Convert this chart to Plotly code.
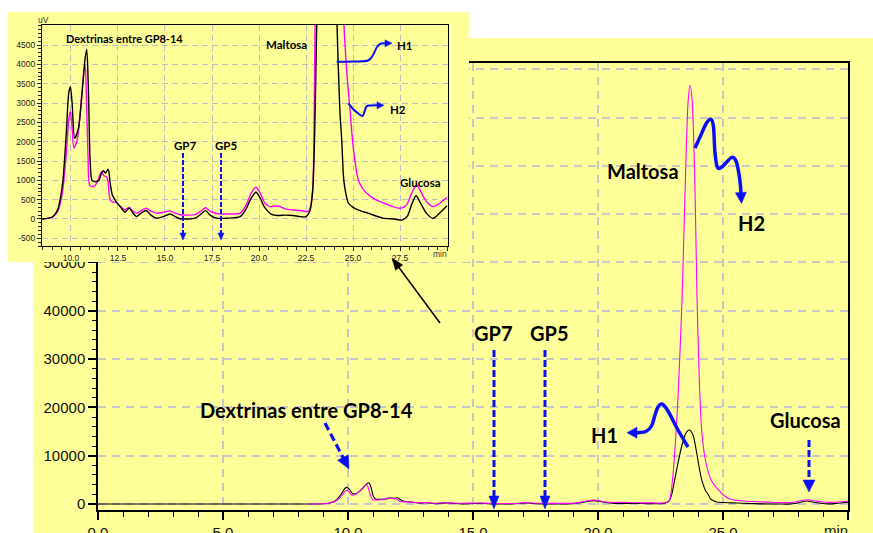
import plotly.graph_objects as go

W, H = 873, 533
YEL = '#FFFF99'
BLUE = '#0A10F5'
MAG = '#FF00FF'
GRID = '#C8C8C8'

# ---------------- data ----------------
# H1 (black trace): retention time (min) and signal (uV)
t_h1 = [0.0, 8.5, 9.0, 9.3, 9.55, 9.75, 9.88, 9.97, 10.06, 10.2, 10.4, 10.6, 10.75, 10.84, 10.93,
        11.02, 11.12, 11.3, 11.5, 11.62, 11.72, 11.84, 11.98, 12.08, 12.2, 12.4, 12.65, 12.87, 13.1,
        13.3, 13.5, 13.75, 14.0, 14.25, 14.55, 14.9, 15.27, 15.55, 15.8, 16.2, 16.6, 16.9, 17.16,
        17.4, 17.75, 18.3, 19.0, 19.3, 19.6, 19.84, 20.05, 20.3, 20.67, 21.0, 21.4, 21.8, 22.2, 22.5,
        22.7, 22.85, 22.95, 23.05, 23.2, 23.35, 23.5, 23.65, 23.8, 23.95, 24.05, 24.15, 24.3, 24.4,
        24.5, 24.62, 24.75, 25.0, 25.3, 25.8, 26.6, 27.2, 27.6, 27.9, 28.1, 28.35, 28.6, 28.9, 29.25,
        29.6, 30.0]
v_h1 = [0, 0, 50, 250, 900, 2200, 3250, 3420, 3000, 2090, 2350, 3300, 4150, 4390, 3300,
        1500, 1000, 960, 1010, 1180, 1250, 1190, 1290, 950, 620, 450, 300, 175, 280,
        150, 60, 160, 220, 100, 20, 60, 130, 60, 5, 0, 20, 120, 215,
        100, 20, 20, 60, 250, 550, 690, 550, 300, 120, 90, 100, 90, 60, 60,
        200, 700, 2000, 4500, 8500, 12000, 14500, 15300, 14300, 10500, 7500, 5000, 2800, 2040,
        1050, 650, 420, 300, 230, 150, 20, 0, -30, 80, 350, 600, 400, 150, 15,
        150, 340]

# H2 (magenta trace)
t_h2 = [8.5, 9.0, 9.3, 9.55, 9.75, 9.88, 9.96, 10.04, 10.16, 10.35, 10.55, 10.68, 10.76, 10.83,
        10.91, 11.0, 11.2, 11.4, 11.54, 11.64, 11.75, 11.86, 11.96, 12.08, 12.2, 12.4, 12.65, 12.87,
        13.1, 13.3, 13.5, 13.75, 14.0, 14.25, 14.55, 14.9, 15.27, 15.55, 15.8, 16.2, 16.6, 16.9,
        17.16, 17.4, 17.75, 18.3, 19.0, 19.3, 19.6, 19.84, 20.05, 20.3, 20.58, 21.03, 21.4, 21.8,
        22.2, 22.62, 22.75, 22.87, 22.98, 23.1, 23.2, 23.36, 23.5, 23.6, 23.68, 23.76, 23.86, 23.96,
        24.05, 24.15, 24.3, 24.52, 24.7, 24.84, 25.0, 25.28, 25.5, 25.73, 26.2, 26.8, 27.5, 27.85,
        28.1, 28.38, 28.55, 28.74, 29.0, 29.27, 29.6, 30.0]
v_h2 = [0, 40, 200, 700, 1700, 2550, 2780, 2500, 1830, 2100, 3100, 3800, 3990, 3000,
        1600, 870, 840, 950, 1150, 1230, 1120, 1100, 1000, 500, 440, 430, 320, 235,
        300, 200, 150, 220, 280, 200, 150, 170, 210, 150, 110, 100, 110, 200,
        290, 200, 140, 130, 150, 350, 680, 820, 680, 420, 320, 336, 260, 233,
        220, 190, 330, 900, 5000, 13000, 22000, 42000, 68000, 83000, 86700, 84000, 70000, 43000,
        26000, 15000, 9000, 5000, 3600, 2820, 1900, 1010, 800, 664, 500, 380, 276, 362,
        650, 880, 760, 580, 400, 320, 400, 560]

assert len(t_h1) == len(v_h1) and len(t_h2) == len(v_h2)

# tick labels
main_x_ticks = [0, 5, 10, 15, 20, 25, 30]
main_x_labels = ['0.0', '5.0', '10.0', '15.0', '20.0', '25.0', '']
main_y_ticks = [0, 10000, 20000, 30000, 40000, 50000, 60000, 70000, 80000, 90000]
main_y_labels = ['0', '10000', '20000', '30000', '40000', '50000', '60000', '70000', '80000', '90000']
inset_x_ticks = [10, 12.5, 15, 17.5, 20, 22.5, 25, 27.5, 30]
inset_x_labels = ['10.0', '12.5', '15.0', '17.5', '20.0', '22.5', '25.0', '27.5', '']
inset_y_ticks = [-500, 0, 500, 1000, 1500, 2000, 2500, 3000, 3500, 4000, 4500]
inset_y_labels = ['-500', '0', '500', '1000', '1500', '2000', '2500', '3000', '3500', '4000', '4500']

# ---------------- layout geometry (pixels) ----------------
MAIN_BOX = (98, 63, 848, 510)      # left, top, right, bottom
MAIN_XR, MAIN_YR = [0, 30], [-1250, 91300]
INSET_BOX = (42, 25, 448, 246)
INSET_XR, INSET_YR = [8.46, 30.05], [-700, 5020]
COVER_BOX = (8, 12, 469, 262)
MAIN_PANEL = (33, 38, 873, 533)


def dom(box):
    l, t, r, b = box
    return [l / W, r / W], [1 - b / H, 1 - t / H]


def X(px):
    return px / W


def Y(py):
    return 1 - py / H


shapes = []
shapes.append(dict(type='rect', xref='paper', yref='paper', layer='below',
                   x0=X(MAIN_PANEL[0]), x1=X(MAIN_PANEL[2]), y0=Y(MAIN_PANEL[3]), y1=Y(MAIN_PANEL[1]),
                   fillcolor=YEL, line=dict(width=0)))


def path_str(pts, smooth):
    d = 'M%.5f,%.5f' % (X(pts[0][0]), Y(pts[0][1]))
    if not smooth:
        for p in pts[1:]:
            d += ' L%.5f,%.5f' % (X(p[0]), Y(p[1]))
        return d
    n = len(pts)
    for i in range(n - 1):
        p0 = pts[i - 1] if i > 0 else pts[i]
        p1, p2 = pts[i], pts[i + 1]
        p3 = pts[i + 2] if i + 2 < n else p2
        c1 = (p1[0] + (p2[0] - p0[0]) / 6, p1[1] + (p2[1] - p0[1]) / 6)
        c2 = (p2[0] - (p3[0] - p1[0]) / 6, p2[1] - (p3[1] - p1[1]) / 6)
        d += ' C%.5f,%.5f %.5f,%.5f %.5f,%.5f' % (X(c1[0]), Y(c1[1]), X(c2[0]), Y(c2[1]), X(p2[0]), Y(p2[1]))
    return d


def arrow(pts, color, lw, head_len, head_w, dash=None, smooth=False):
    tip, frm = pts[-1], pts[-2]
    dx, dy = tip[0] - frm[0], tip[1] - frm[1]
    L = (dx * dx + dy * dy) ** 0.5
    ux, uy = dx / L, dy / L
    base = (tip[0] - ux * head_len, tip[1] - uy * head_len)
    line_pts = list(pts[:-1]) + [(base[0] + ux * 1.5, base[1] + uy * 1.5)]
    line = dict(color=color, width=lw)
    if dash:
        line['dash'] = dash
    shapes.append(dict(type='path', xref='paper', yref='paper', layer='above',
                       path=path_str(line_pts, smooth), line=line))
    nx, ny = -uy, ux
    c1 = (base[0] + nx * head_w / 2, base[1] + ny * head_w / 2)
    c2 = (base[0] - nx * head_w / 2, base[1] - ny * head_w / 2)
    shapes.append(dict(type='path', xref='paper', yref='paper', layer='above',
                       path=path_str([tip, c1, c2], False) + ' Z',
                       fillcolor=color, line=dict(color=color, width=0.5)))


# main chart arrows
arrow([(325, 423), (349, 469)], BLUE, 3.2, 13, 12, dash='8px,4px')
arrow([(494, 350), (494, 509)], BLUE, 3, 13, 10, dash='7px,3px')
arrow([(545, 350), (545, 509)], BLUE, 3, 13, 10, dash='7px,3px')
arrow([(809, 440), (809, 492)], BLUE, 3, 12, 12, dash='7px,3px')
arrow([(688, 447), (678, 430), (668, 411), (662, 404), (658, 407), (655, 415), (651.5, 426),
       (646, 431.5), (638, 432.7), (627, 432.7)], BLUE, 3.5, 10, 11, smooth=True)
arrow([(695, 148), (700, 137), (706.5, 123), (711, 119.3), (713.5, 127), (715, 153), (717.5, 167.5),
       (722.5, 166.5), (731.5, 157.5), (736, 161), (739, 174), (740.5, 186), (741.5, 203.5)],
      BLUE, 3.5, 11, 11, smooth=True)
arrow([(440, 323), (392, 258)], 'black', 1.5, 12, 9)

# inset arrows
arrow([(183, 153), (183, 240)], BLUE, 2, 7, 6, dash='5px,2px')
arrow([(221, 153), (221, 240)], BLUE, 2, 7, 6, dash='5px,2px')
arrow([(336.7, 61.7), (355, 61.5), (368, 60.5), (373, 55), (377, 47), (381, 43.5), (386, 43.3),
       (392, 43.3)], BLUE, 2, 7, 7, smooth=True)
arrow([(348.3, 103.3), (353, 109), (358.3, 113.5), (362.5, 116), (364.5, 111.5), (366.5, 106.5),
       (371, 105.5), (377, 105.3), (384, 105.3)], BLUE, 2, 7, 7, smooth=True)

# ---------------- text ----------------
annotations = []


def label(text, px, py, size, family='Lato', bold=True, color='black', xanchor='center'):
    annotations.append(dict(text=('<b>%s</b>' % text) if bold else text, x=X(px), y=Y(py),
                            xref='paper', yref='paper', showarrow=False, xanchor=xanchor,
                            yanchor='middle', font=dict(family=family, size=size, color=color)))


label('Dextrinas entre GP8-14', 306, 410, 20)
label('GP7', 493, 333, 20)
label('GP5', 549, 333, 20)
label('H1', 604, 435, 20)
label('Maltosa', 643, 171, 20)
label('H2', 751, 223, 20)
label('Glucosa', 805, 420, 20)
label('Dextrinas entre GP8-14', 124, 39, 11)
label('Maltosa', 286, 44, 11.5)
label('H1', 405, 46, 11.5)
label('H2', 398, 109, 11.5)
label('GP7', 185, 146, 11.5)
label('GP5', 226, 146, 11.5)
label('Glucosa', 420, 182, 11.5)
label('uV', 43, 20, 8.5, family='Liberation Sans', bold=False, color='#333')
label('min', 449, 254, 8.5, family='Liberation Sans', bold=False, color='#333', xanchor='right')
label('min', 850, 530, 15, family='Liberation Sans', bold=False, color='#111', xanchor='right')

# ---------------- figure ----------------
fig = go.Figure()
# main chart
fig.add_trace(go.Scatter(x=t_h1, y=v_h1, mode='lines', line=dict(color='black', width=1.1, shape='spline', smoothing=0.7),
                         xaxis='x', yaxis='y', hoverinfo='skip'))
fig.add_trace(go.Scatter(x=t_h2, y=v_h2, mode='lines', line=dict(color=MAG, width=1.1, shape='spline', smoothing=0.7),
                         xaxis='x', yaxis='y', hoverinfo='skip'))
# cover panel for the inset
fig.add_trace(go.Scatter(x=[0, 1, 1, 0, 0], y=[0, 0, 1, 1, 0], mode='lines', fill='toself', fillcolor=YEL,
                         line=dict(width=0, color=YEL), xaxis='x2', yaxis='y2', hoverinfo='skip'))
# inset
fig.add_trace(go.Scatter(x=t_h2, y=v_h2, mode='lines', line=dict(color=MAG, width=1.4, shape='spline', smoothing=0.7),
                         xaxis='x3', yaxis='y3', hoverinfo='skip'))
fig.add_trace(go.Scatter(x=t_h1, y=v_h1, mode='lines', line=dict(color='black', width=1.4, shape='spline', smoothing=0.7),
                         xaxis='x3', yaxis='y3', hoverinfo='skip'))

mxd, myd = dom(MAIN_BOX)
cxd, cyd = dom(COVER_BOX)
ixd, iyd = dom(INSET_BOX)

main_font = dict(family='Liberation Sans', size=15, color='#111')
inset_font = dict(family='Liberation Sans', size=8.5, color='#222')

fig.update_layout(
    template='none',
    width=W, height=H, margin=dict(l=0, r=0, t=0, b=0, pad=0, autoexpand=False),
    paper_bgcolor='white', plot_bgcolor=YEL, showlegend=False,
    xaxis=dict(domain=mxd, anchor='y', range=MAIN_XR, tickmode='array', tickvals=main_x_ticks,
               ticktext=main_x_labels, ticks='outside', ticklen=8, tickwidth=1.5, tickcolor='black',
               minor=dict(dtick=1, tick0=0, ticks='outside', ticklen=5, tickwidth=1, tickcolor='black', showgrid=False),
               showline=True, linecolor='black', linewidth=1.5, mirror=True, automargin=False,
               showgrid=True, gridcolor=GRID, gridwidth=1.5, griddash='8px,6px', zeroline=False,
               tickfont=main_font),
    yaxis=dict(domain=myd, anchor='x', range=MAIN_YR, tickmode='array', tickvals=main_y_ticks,
               ticktext=main_y_labels, ticks='outside', ticklen=8, tickwidth=1.5, tickcolor='black',
               minor=dict(dtick=2000, tick0=0, ticks='outside', ticklen=4, tickwidth=1, tickcolor='black', showgrid=False),
               showline=True, linecolor='black', linewidth=1.5, mirror=True, automargin=False,
               showgrid=True, gridcolor=GRID, gridwidth=1.5, griddash='8px,6px', zeroline=False,
               tickfont=main_font),
    xaxis2=dict(domain=cxd, anchor='y2', range=[0, 1], visible=False, fixedrange=True, automargin=False),
    yaxis2=dict(domain=cyd, anchor='x2', range=[0, 1], visible=False, fixedrange=True, automargin=False),
    xaxis3=dict(domain=ixd, anchor='y3', range=INSET_XR, tickmode='array', tickvals=inset_x_ticks,
                ticktext=inset_x_labels, ticks='outside', ticklen=4, tickwidth=1, tickcolor='#222',
                minor=dict(dtick=0.5, tick0=0, ticks='outside', ticklen=2.5, tickwidth=1, tickcolor='#222', showgrid=False),
                showline=True, linecolor='black', linewidth=1.2, mirror=True, automargin=False,
                showgrid=True, gridcolor='#BEBEBE', gridwidth=1.3, griddash='6px,4px', zeroline=False,
                tickfont=inset_font),
    yaxis3=dict(domain=iyd, anchor='x3', range=INSET_YR, tickmode='array', tickvals=inset_y_ticks,
                ticktext=inset_y_labels, ticks='outside', ticklen=4, tickwidth=1, tickcolor='#222',
                minor=dict(dtick=100, tick0=0, ticks='outside', ticklen=2.5, tickwidth=1, tickcolor='#222', showgrid=False),
                showline=True, linecolor='black', linewidth=1.2, mirror=True, automargin=False,
                showgrid=True, gridcolor='#BEBEBE', gridwidth=1.3, griddash='6px,4px', zeroline=False,
                tickfont=inset_font),
    shapes=shapes, annotations=annotations,
)

fig.write_html('out.html', config={'displayModeBar': False})
